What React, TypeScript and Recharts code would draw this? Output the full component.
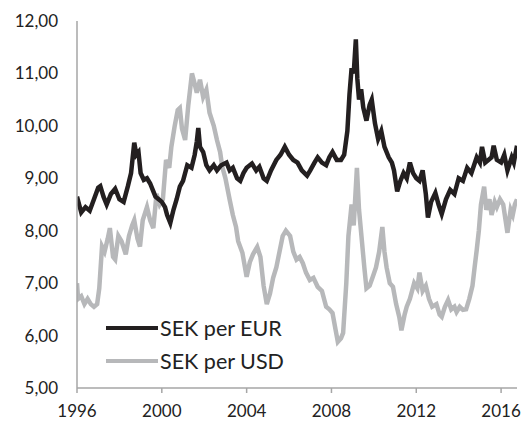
import React from 'react';
import { LineChart, Line, XAxis, YAxis } from 'recharts';

// SEK per EUR (decimal years)
const eurYears = [
  1996.0, 1996.1, 1996.2, 1996.4, 1996.6, 1996.8, 1997.0, 1997.1, 1997.25, 1997.4,
  1997.6, 1997.8, 1998.0, 1998.2, 1998.4, 1998.55, 1998.7, 1998.8, 1998.9, 1999.0,
  1999.15, 1999.3, 1999.45, 1999.6, 1999.7, 1999.85, 2000.0, 2000.15, 2000.25, 2000.4,
  2000.55, 2000.7, 2000.85, 2001.0, 2001.2, 2001.4, 2001.55, 2001.65, 2001.72, 2001.8,
  2001.95, 2002.1, 2002.25, 2002.45, 2002.6, 2002.8, 2003.05, 2003.2, 2003.35, 2003.55,
  2003.7, 2003.85, 2004.0, 2004.25, 2004.45, 2004.6, 2004.8, 2004.95, 2005.15, 2005.4,
  2005.6, 2005.8, 2006.0, 2006.2, 2006.4, 2006.6, 2006.85, 2007.0, 2007.2, 2007.35,
  2007.55, 2007.75, 2007.9, 2008.05, 2008.25, 2008.45, 2008.6, 2008.75, 2008.85, 2008.95,
  2009.05, 2009.15, 2009.22, 2009.3, 2009.4, 2009.5, 2009.65, 2009.8, 2009.9, 2010.05,
  2010.2, 2010.35, 2010.5, 2010.7, 2010.85, 2010.95, 2011.1, 2011.25, 2011.4, 2011.55,
  2011.7, 2011.85, 2012.0, 2012.15, 2012.3, 2012.45, 2012.55, 2012.7, 2012.9, 2013.05,
  2013.2, 2013.4, 2013.6, 2013.8, 2014.0, 2014.2, 2014.4, 2014.6, 2014.85, 2015.0,
  2015.1, 2015.25, 2015.4, 2015.55, 2015.65, 2015.8, 2016.0, 2016.15, 2016.3, 2016.5,
  2016.6, 2016.75,
];
const eurValues = [
  8.65, 8.5, 8.35, 8.45, 8.38, 8.6, 8.82, 8.85, 8.65, 8.5,
  8.7, 8.8, 8.6, 8.55, 8.85, 9.1, 9.68, 9.45, 9.5, 9.1,
  8.97, 9.0, 8.9, 8.75, 8.65, 8.6, 8.55, 8.45, 8.3, 8.15,
  8.4, 8.6, 8.84, 8.95, 9.25, 9.2, 9.45, 9.7, 9.96, 9.6,
  9.5, 9.25, 9.15, 9.25, 9.15, 9.25, 9.3, 9.15, 9.2, 9.0,
  8.95, 9.1, 9.2, 9.28, 9.15, 9.22, 9.0, 8.95, 9.15, 9.35,
  9.45, 9.6, 9.45, 9.35, 9.3, 9.15, 9.05, 9.15, 9.3, 9.4,
  9.3, 9.25, 9.4, 9.5, 9.35, 9.35, 9.45, 9.9, 10.6, 11.1,
  11.0, 11.65, 10.9, 10.5, 10.7, 10.35, 10.1, 10.4, 10.5, 10.05,
  9.75, 9.9, 9.6, 9.4, 9.3, 9.15, 8.75, 8.95, 9.1, 9.0,
  9.3, 9.1, 9.0, 8.95, 9.15, 8.7, 8.25, 8.55, 8.72, 8.5,
  8.32, 8.6, 8.78, 8.7, 9.0, 8.95, 9.2, 9.1, 9.4, 9.3,
  9.6, 9.3, 9.35, 9.4, 9.62, 9.35, 9.3, 9.45, 9.15, 9.4,
  9.3, 9.62,
];

// SEK per USD
const usdYears = [
  1996.0, 1996.05, 1996.2, 1996.35, 1996.5, 1996.65, 1996.8, 1996.95, 1997.05, 1997.18,
  1997.3, 1997.45, 1997.55, 1997.7, 1997.8, 1997.95, 1998.1, 1998.3, 1998.45, 1998.6,
  1998.7, 1998.85, 1998.97, 1999.1, 1999.3, 1999.45, 1999.6, 1999.75, 1999.9, 2000.05,
  2000.2, 2000.35, 2000.45, 2000.6, 2000.75, 2000.85, 2000.95, 2001.1, 2001.25, 2001.42,
  2001.55, 2001.65, 2001.8, 2001.95, 2002.1, 2002.25, 2002.45, 2002.6, 2002.75, 2002.85,
  2003.0, 2003.2, 2003.35, 2003.5, 2003.6, 2003.8, 2004.0, 2004.15, 2004.3, 2004.5,
  2004.65, 2004.8, 2004.95, 2005.1, 2005.25, 2005.4, 2005.55, 2005.7, 2005.85, 2006.05,
  2006.2, 2006.35, 2006.5, 2006.65, 2006.8, 2006.98, 2007.15, 2007.35, 2007.55, 2007.75,
  2007.9, 2008.05, 2008.2, 2008.3, 2008.45, 2008.55, 2008.7, 2008.8, 2008.95, 2009.05,
  2009.2, 2009.3, 2009.4, 2009.55, 2009.65, 2009.8, 2009.95, 2010.1, 2010.25, 2010.4,
  2010.5, 2010.6, 2010.75, 2010.9, 2011.05, 2011.2, 2011.3, 2011.45, 2011.55, 2011.7,
  2011.9, 2012.05, 2012.15, 2012.3, 2012.45, 2012.6, 2012.75, 2012.95, 2013.1, 2013.2,
  2013.35, 2013.5, 2013.65, 2013.8, 2013.9, 2014.05, 2014.2, 2014.35, 2014.5, 2014.65,
  2014.75, 2014.85, 2014.95, 2015.05, 2015.2, 2015.3, 2015.45, 2015.55, 2015.7, 2015.8,
  2015.95, 2016.1, 2016.3, 2016.45, 2016.55, 2016.65, 2016.75,
];
const usdValues = [
  7.0, 6.7, 6.75, 6.6, 6.7, 6.6, 6.55, 6.6, 6.9, 7.7,
  7.6, 7.85, 8.05, 7.5, 7.45, 7.9, 7.8, 7.55, 7.9, 8.1,
  8.2, 7.85, 7.7, 8.2, 8.45, 8.2, 8.05, 8.7, 8.5, 8.6,
  9.35, 9.2, 9.6, 9.98, 10.3, 10.34, 9.95, 9.73, 10.4, 11.0,
  10.8, 10.63, 10.88, 10.55, 10.69, 10.25, 10.0, 9.73, 9.5, 9.22,
  9.0, 8.59, 8.3, 8.07, 7.8, 7.58, 7.12, 7.4, 7.55, 7.69,
  7.5, 6.95, 6.6, 6.8, 7.1, 7.3, 7.6, 7.9, 8.0, 7.9,
  7.6, 7.45, 7.5, 7.38, 7.2, 7.06, 7.1, 6.93, 6.85, 6.55,
  6.5, 6.43, 6.1, 5.88, 5.95, 6.05, 7.0, 7.9, 8.5, 8.1,
  9.2, 8.4, 7.96, 7.3, 6.9, 6.95, 7.12, 7.3, 7.6, 8.07,
  7.6, 7.3, 7.0, 6.93, 6.6, 6.35, 6.1, 6.4, 6.55, 6.7,
  7.0, 6.9, 7.2, 6.85, 6.95, 6.7, 6.55, 6.6, 6.4, 6.36,
  6.55, 6.68, 6.5, 6.55, 6.45, 6.55, 6.49, 6.5, 6.7, 6.95,
  7.3, 7.63, 8.0, 8.5, 8.84, 8.4, 8.6, 8.3, 8.55, 8.45,
  8.6, 8.5, 7.96, 8.4, 8.3, 8.5, 8.6,
];

const xTicks = [1996, 2000, 2004, 2008, 2012, 2016];
const yTicks = [5, 6, 7, 8, 9, 10, 11, 12];

const seriesNames = ['SEK per EUR', 'SEK per USD'];
const seriesColors = ['#231f20', '#b7b8ba'];

const eurData = eurYears.map((t, i) => ({ t, v: eurValues[i] }));
const usdData = usdYears.map((t, i) => ({ t, v: usdValues[i] }));

const FONT = 'Lato, "Open Sans", sans-serif';
const AXIS_COLOR = '#a6a6a6';

// legend sits inside the plot, bottom left
function ChartLegend() {
  return (
    <div style={{ position: 'absolute', left: 106, top: 311, fontFamily: FONT }}>
      {seriesNames.map((name, i) => (
        <div key={name} style={{ display: 'flex', alignItems: 'center', height: 33 }}>
          <svg width={52} height={6} style={{ marginRight: 2 }}>
            <line x1={0} y1={3} x2={52} y2={3} stroke={seriesColors[i]} strokeWidth={4} />
          </svg>
          <span style={{ fontSize: 21.5, color: '#222', whiteSpace: 'nowrap' }}>{name}</span>
        </div>
      ))}
    </div>
  );
}

export default function App() {
  return (
    <div style={{ position: 'absolute', left: 0, top: 0, width: 521, height: 423, background: '#fff' }}>
      <LineChart width={521} height={423} margin={{ top: 21, right: 4, left: 0, bottom: 0 }}>
        <XAxis
          type="number"
          dataKey="t"
          domain={[1996, 2016.75]}
          ticks={xTicks}
          allowDataOverflow
          height={35}
          stroke={AXIS_COLOR}
          strokeWidth={1.5}
          tickSize={5}
          tickMargin={12}
          tick={{ fill: '#222', fontSize: 17, fontFamily: FONT }}
        />
        <YAxis
          type="number"
          domain={[5, 12]}
          ticks={yTicks}
          width={77}
          stroke={AXIS_COLOR}
          strokeWidth={1.5}
          tickLine={false}
          tickSize={0}
          tickMargin={19}
          tickFormatter={(v: number) => v.toFixed(2).replace('.', ',')}
          tick={{ fill: '#222', fontSize: 17, fontFamily: FONT }}
        />
        <Line
          data={usdData}
          dataKey="v"
          name={seriesNames[1]}
          stroke={seriesColors[1]}
          strokeWidth={4.5}
          dot={false}
          isAnimationActive={false}
        />
        <Line
          data={eurData}
          dataKey="v"
          name={seriesNames[0]}
          stroke={seriesColors[0]}
          strokeWidth={4.5}
          dot={false}
          isAnimationActive={false}
        />
      </LineChart>
      <ChartLegend />
    </div>
  );
}
